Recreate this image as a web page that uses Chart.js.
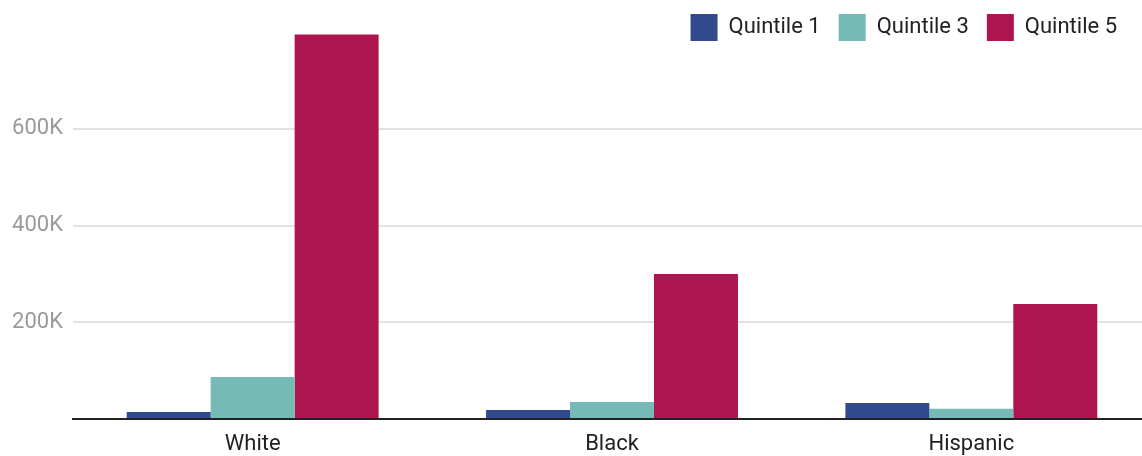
<!DOCTYPE html>
<html>
<head>
<meta charset="utf-8">
<script src="https://cdn.jsdelivr.net/npm/chart.js@4"></script>
<style>
  html, body { margin: 0; padding: 0; background: #fff; overflow: hidden; }
  #wrap { width: 1151px; height: 456px; }
</style>
</head>
<body>
<div id="wrap"><canvas id="wealthChart"></canvas></div>
<script>
// data
const groups = ['White', 'Black', 'Hispanic'];
const quintile1 = [14500, 18500, 33000];
const quintile3 = [87000, 35000, 21000];
const quintile5 = [795000, 300000, 237500];
const yTicks = [200000, 400000, 600000];

// legend takes less room than it asks for, so the plot starts near the top
const legendFit = {
    id: 'legendFit',
    beforeInit(chart) {
        const fit = chart.legend.fit;
        chart.legend.fit = function () {
            fit.call(this);
            this.height = 36;
        };
    },
    afterLayout(chart) {
        // let the legend draw past its shrunk box, and pull it in from the right
        chart.legend.bottom = 70;
        chart.legend.right = 1135;
    }
};

let ctx = document.getElementById('wealthChart').getContext('2d');
let wealthChart = new Chart(ctx, {
    type: 'bar',
    data: {
        labels: groups,
        datasets: [
            { label: 'Quintile 1', data: quintile1, backgroundColor: '#314a8d' },
            { label: 'Quintile 3', data: quintile3, backgroundColor: '#76bab8' },
            { label: 'Quintile 5', data: quintile5, backgroundColor: '#ad1450' }
        ]
    },
    plugins: [legendFit],
    options: {
        responsive: true,
        maintainAspectRatio: false,
        animation: false,
        layout: { padding: { top: -4, left: 0, right: 0, bottom: 0 } },
        datasets: { bar: { categoryPercentage: 0.701, barPercentage: 1 } },
        plugins: {
            tooltip: { enabled: false },
            legend: {
                position: 'top',
                align: 'end',
                labels: {
                    boxWidth: 27,
                    boxHeight: 27,
                    padding: 18,
                    color: '#222',
                    font: { family: 'Roboto', size: 22 }
                }
            }
        },
        scales: {
            x: {
                grid: { display: false, drawTicks: false },
                border: { display: true, color: '#222', width: 2 },
                ticks: { color: '#222', padding: 12, font: { family: 'Roboto', size: 22 } },
                afterFit(scale) { scale.height = 37; }
            },
            y: {
                min: 0,
                max: 800000,
                border: { display: false },
                grid: {
                    drawTicks: false,
                    lineWidth: 2,
                    color: c => yTicks.includes(c.tick.value) ? '#e2e2e2' : 'transparent'
                },
                ticks: {
                    stepSize: 200000,
                    padding: 10,
                    color: '#9a9a9a',
                    font: { family: 'Roboto', size: 22 },
                    callback: v => yTicks.includes(v) ? (v / 1000) + 'K' : ''
                },
                afterFit(scale) { scale.width = 73; }
            }
        }
    }
});
</script>
</body>
</html>
